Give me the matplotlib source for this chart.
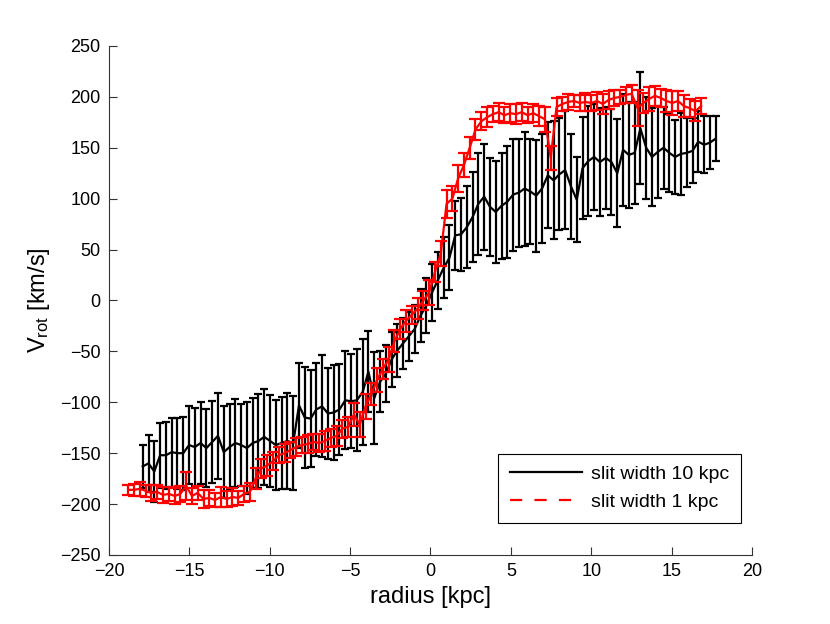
import matplotlib
matplotlib.use("Agg")
import matplotlib.pyplot as plt
from matplotlib.lines import Line2D

plt.rcParams['font.family'] = ['Liberation Sans', 'DejaVu Sans']
plt.rcParams['mathtext.fontset'] = 'custom'
plt.rcParams['mathtext.rm'] = 'Liberation Sans'
plt.rcParams['mathtext.it'] = 'Liberation Sans:italic'

# slit width 10 kpc
radius_10 = [-17.90, -17.54, -17.18, -16.82, -16.46, -16.10, -15.74, -15.38, -15.02, -14.66,
             -14.30, -13.94, -13.58, -13.22, -12.86, -12.50, -12.14, -11.78, -11.42, -11.06,
             -10.70, -10.34, -9.98, -9.62, -9.26, -8.90, -8.54, -8.18, -7.82, -7.46,
             -7.10, -6.74, -6.38, -6.02, -5.66, -5.30, -4.94, -4.58, -4.22, -3.86,
             -3.50, -3.14, -2.78, -2.42, -2.06, -1.70, -1.34, -0.98, -0.62, -0.26,
             0.10, 0.46, 0.82, 1.18, 1.54, 1.90, 2.26, 2.62, 2.98, 3.34,
             3.70, 4.06, 4.42, 4.78, 5.14, 5.50, 5.86, 6.22, 6.58, 6.94,
             7.30, 7.66, 8.02, 8.38, 8.74, 9.10, 9.46, 9.82, 10.18, 10.54,
             10.90, 11.26, 11.62, 11.98, 12.34, 12.70, 13.06, 13.42, 13.78, 14.14,
             14.50, 14.86, 15.22, 15.58, 15.94, 16.30, 16.66, 17.02, 17.38, 17.74]
vrot_10 = [-163, -160, -168, -152, -152, -149, -150, -150, -142, -144,
           -140, -145, -139, -133, -149, -144, -140, -142, -145, -140,
           -138, -134, -138, -142, -140, -138, -140, -103, -115, -116,
           -107, -104, -111, -110, -107, -98, -99, -98, -90, -70,
           -96, -80, -72, -58, -49, -42, -35, -28, -15, -5,
           8, 20, 32, 42, 64, 65, 72, 82, 95, 102,
           92, 87, 93, 97, 104, 106, 110, 107, 103, 110,
           123, 118, 124, 128, 112, 99, 130, 137, 141, 136,
           140, 136, 125, 148, 143, 145, 169, 150, 141, 146,
           150, 145, 141, 144, 145, 147, 156, 153, 155, 159]
err_10 = [21, 28, 30, 32, 33, 34, 35, 36, 38, 38,
          40, 38, 40, 42, 45, 42, 43, 40, 45, 44,
          46, 47, 45, 44, 45, 47, 46, 42, 50, 48,
          46, 50, 45, 47, 45, 48, 46, 50, 52, 40,
          45, 30, 28, 27, 26, 25, 24, 24, 26, 27,
          28, 28, 30, 32, 34, 36, 40, 44, 50, 52,
          48, 50, 52, 55, 55, 53, 56, 52, 55, 54,
          52, 58, 55, 58, 52, 42, 50, 54, 52, 53,
          50, 52, 53, 55, 52, 50, 55, 50, 48, 45,
          40, 38, 36, 40, 34, 32, 30, 28, 26, 22]

# slit width 1 kpc
radius_1 = [-18.80, -18.44, -18.08, -17.72, -17.36, -17.00, -16.64, -16.28, -15.92, -15.56,
            -15.20, -14.84, -14.48, -14.12, -13.76, -13.40, -13.04, -12.68, -12.32, -11.96,
            -11.60, -11.24, -10.88, -10.52, -10.16, -9.80, -9.44, -9.08, -8.72, -8.36,
            -8.00, -7.64, -7.28, -6.92, -6.56, -6.20, -5.84, -5.48, -5.12, -4.76,
            -4.40, -4.04, -3.68, -3.32, -2.96, -2.60, -2.24, -1.88, -1.52, -1.16,
            -0.80, -0.44, -0.08, 0.28, 0.64, 1.00, 1.36, 1.72, 2.08, 2.44,
            2.80, 3.16, 3.52, 3.88, 4.24, 4.60, 4.96, 5.32, 5.68, 6.04,
            6.40, 6.76, 7.12, 7.48, 7.84, 8.20, 8.56, 8.92, 9.28, 9.64,
            10.00, 10.36, 10.72, 11.08, 11.44, 11.80, 12.16, 12.52, 12.88, 13.24,
            13.60, 13.96, 14.32, 14.68, 15.04, 15.40, 15.76, 16.12, 16.48, 16.84]
vrot_1 = [-186, -186, -185, -187, -189, -188, -191, -190, -192, -190,
          -182, -192, -189, -195, -194, -196, -193, -195, -193, -194,
          -190, -188, -175, -165, -162, -158, -152, -150, -147, -144,
          -142, -141, -139, -140, -138, -135, -133, -126, -124, -112,
          -122, -104, -92, -78, -67, -58, -40, -28, -20, -14,
          -8, 0, 8, 28, 46, 95, 100, 120, 133, 150,
          168, 176, 180, 183, 185, 182, 184, 183, 185, 182,
          184, 181, 178, 140, 190, 193, 195, 196, 194, 195,
          194, 196, 193, 197, 199, 200, 202, 203, 189, 194,
          198, 201, 199, 196, 194, 196, 191, 189, 186, 191]
err_1 = [5, 6, 7, 6, 8, 7, 8, 7, 8, 8,
         14, 8, 7, 9, 8, 7, 10, 8, 9, 7,
         8, 9, 10, 9, 10, 9, 8, 9, 8, 9,
         8, 9, 8, 9, 10, 9, 10, 9, 10, 11,
         12, 12, 11, 12, 10, 12, 11, 10, 11, 9,
         10, 9, 12, 10, 12, 14, 12, 13, 12, 11,
         10, 9, 10, 8, 9, 8, 9, 10, 9, 8,
         9, 10, 12, 12, 9, 7, 8, 6, 8, 9,
         8, 9, 10, 9, 8, 7, 8, 9, 18, 10,
         12, 10, 9, 11, 12, 10, 11, 9, 10, 8]

fig = plt.figure(figsize=(8.3, 6.24), dpi=100)
ax = fig.add_axes([0.1313, 0.1106, 0.7747, 0.8157])

ax.errorbar(radius_10, vrot_10, yerr=err_10, color='black', lw=1.6,
            elinewidth=1.6, capsize=3, capthick=1.6, zorder=2)
ax.errorbar(radius_1, vrot_1, yerr=err_1, color='red', lw=1.6,
            elinewidth=1.6, capsize=4, capthick=1.6, zorder=3)

ax.set_xlim(-20, 20)
ax.set_ylim(-250, 250)
ax.set_xticks(range(-20, 21, 5))
ax.set_yticks(range(-250, 251, 50))
ax.spines['top'].set_visible(False)
ax.spines['right'].set_visible(False)
ax.spines['left'].set_color('#333333')
ax.spines['bottom'].set_color('#333333')
ax.tick_params(direction='in', length=6, labelsize=13, width=0.8, color='#333333', pad=6)
ax.set_xlabel('radius [kpc]', fontsize=17, labelpad=4)
ax.set_ylabel('V$_{\\rm rot}$ [km/s]', fontsize=17, labelpad=6)

handles = [Line2D([], [], color='black', lw=1.6),
           Line2D([], [], color='red', lw=1.6, ls=(0, (5.5, 5.5)))]
leg = ax.legend(handles, ['slit width 10 kpc', 'slit width 1 kpc'],
                loc='lower right', bbox_to_anchor=(0.983, 0.063), borderaxespad=0,
                fontsize=14, handlelength=3.7, handletextpad=0.5, fancybox=False,
                framealpha=1, borderpad=0.6, labelspacing=0.55)
leg.get_frame().set_edgecolor('black')
leg.get_frame().set_linewidth(0.8)

fig.savefig('out.png', dpi=100)
